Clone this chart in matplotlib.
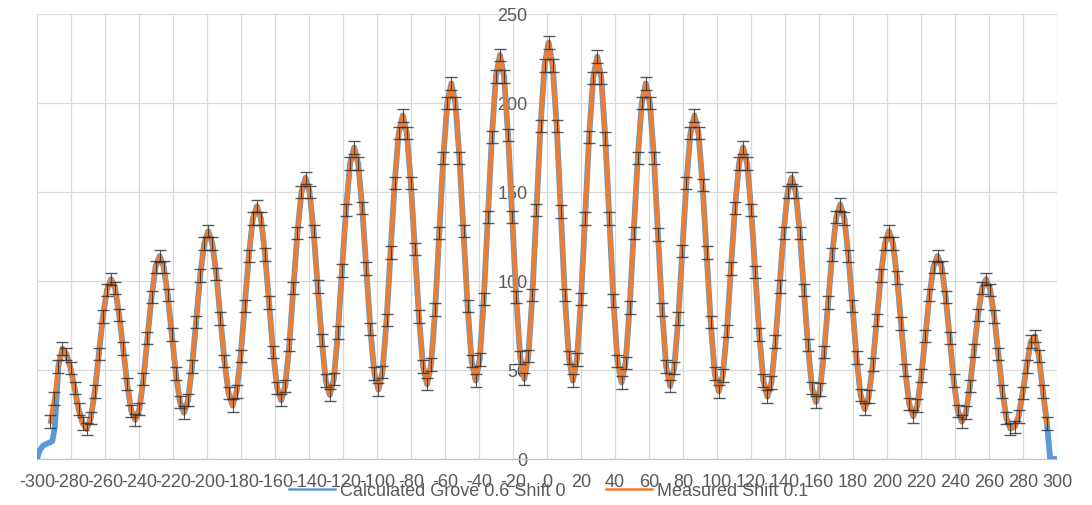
import numpy as np
import matplotlib
matplotlib.use("Agg")
import matplotlib.pyplot as plt
from matplotlib.lines import Line2D

# Measured profile, sampled every ~2.38 units (12 samples per fringe period)
MEAS_X0 = -292.2
MEAS_DX = 2.3833
MEAS_Y = [
    21, 34, 52, 62,
    59, 51, 40, 28, 20, 17,
    23, 38, 59, 80, 95, 101,
    96, 81, 62, 42, 27, 22,
    28, 45, 68, 91, 108, 114,
    108, 92, 70, 48, 32, 26,
    33, 52, 77, 103, 121, 128,
    121, 104, 79, 55, 37, 30,
    38, 58, 86, 114, 135, 142,
    135, 115, 88, 60, 40, 33,
    41, 64, 96, 127, 150, 158,
    150, 128, 97, 67, 44, 36,
    45, 71, 106, 140, 166, 175,
    166, 141, 107, 73, 48, 39,
    49, 78, 116, 155, 183, 193,
    183, 155, 118, 80, 52, 42,
    53, 84, 127, 169, 200, 211,
    200, 169, 128, 86, 55, 44,
    56, 90, 136, 181, 215, 227,
    215, 182, 136, 91, 57, 45,
    58, 92, 140, 187, 221, 234,
    221, 187, 139, 92, 57, 44,
    56, 90, 135, 181, 214, 226,
    214, 180, 135, 89, 55, 43,
    54, 85, 127, 169, 200, 211,
    200, 169, 126, 84, 52, 41,
    51, 79, 117, 155, 183, 193,
    183, 154, 116, 77, 48, 38,
    47, 72, 107, 141, 166, 175,
    166, 140, 105, 70, 44, 35,
    43, 66, 97, 127, 150, 158,
    150, 127, 95, 64, 40, 32,
    39, 60, 88, 115, 136, 143,
    135, 114, 86, 57, 36, 28,
    35, 53, 78, 103, 121, 128,
    121, 102, 76, 50, 31, 24,
    30, 47, 69, 92, 108, 114,
    108, 91, 68, 44, 27, 21,
    26, 41, 61, 81, 96, 101,
    95, 80, 59, 38, 23, 17,
    18, 24, 37, 52, 66, 69, 58, 38, 20,
]
MEAS_ERR = 3.5

# Calculated curve: same as measured in the middle, differs at the edges
CALC_LEFT_X = [-300, -298.6, -296.5, -291.0, -289.5]
CALC_LEFT_Y = [0, 4.5, 7.5, 10, 18]
CALC_RIGHT_X = [296.0, 300.0]
CALC_RIGHT_Y = [0, 0]

LABELS = ["Calculated Grove 0.6 Shift 0", "Measured Shift 0.1"]
BLUE = "#5B9BD5"
ORANGE = "#ED7D31"
GREY_TXT = "#595959"

plt.rcParams["font.family"] = ["Liberation Sans", "DejaVu Sans"]
plt.rcParams["axes.unicode_minus"] = False

meas_x = MEAS_X0 + MEAS_DX * np.arange(len(MEAS_Y))
meas_y = np.array(MEAS_Y, dtype=float)
calc_x = np.concatenate([CALC_LEFT_X, meas_x[2:], CALC_RIGHT_X])
calc_y = np.concatenate([CALC_LEFT_Y, meas_y[2:], CALC_RIGHT_Y])

fig = plt.figure(figsize=(10.92, 5.06), dpi=100)
ax = fig.add_axes([37 / 1092, 46 / 506, 1020 / 1092, 445 / 506])

ax.plot(calc_x, calc_y, color=BLUE, lw=4.2, zorder=3)
ax.plot(meas_x, meas_y, color=ORANGE, lw=3.2, zorder=4)
ax.errorbar(meas_x, meas_y, yerr=MEAS_ERR, fmt="none", ecolor="#303030",
            elinewidth=0.8, capsize=4.5, capthick=1.0, alpha=0.8, zorder=5)

ax.set_xlim(-300, 300)
ax.set_ylim(0, 250)
ax.set_xticks(range(-300, 301, 20))
ax.set_yticks(range(0, 251, 50))
ax.grid(True, color="#D9D9D9", lw=0.9)
ax.set_axisbelow(True)

for s in ("top", "right"):
    ax.spines[s].set_visible(False)
ax.spines["bottom"].set_color("#BFBFBF")
ax.spines["left"].set_position(("data", 0))
ax.spines["left"].set_visible(False)

ax.tick_params(axis="both", length=0, colors=GREY_TXT, labelsize=13)
ax.tick_params(axis="x", pad=10)
ax.tick_params(axis="y", pad=14)

# legend sits on top of the tick labels, as in the source chart
handles = [Line2D([0], [0], color=BLUE, lw=1.8),
           Line2D([0], [0], color=ORANGE, lw=1.8)]
fig.legend(handles, LABELS, loc="center",
           bbox_to_anchor=(548.5 / 1092, 1 - 492 / 506),
           ncol=2, frameon=False, fontsize=13, labelcolor=GREY_TXT,
           handlelength=2.55, handletextpad=0.3, columnspacing=2.2,
           borderpad=0)

fig.savefig("out.png", dpi=100, facecolor="white")
